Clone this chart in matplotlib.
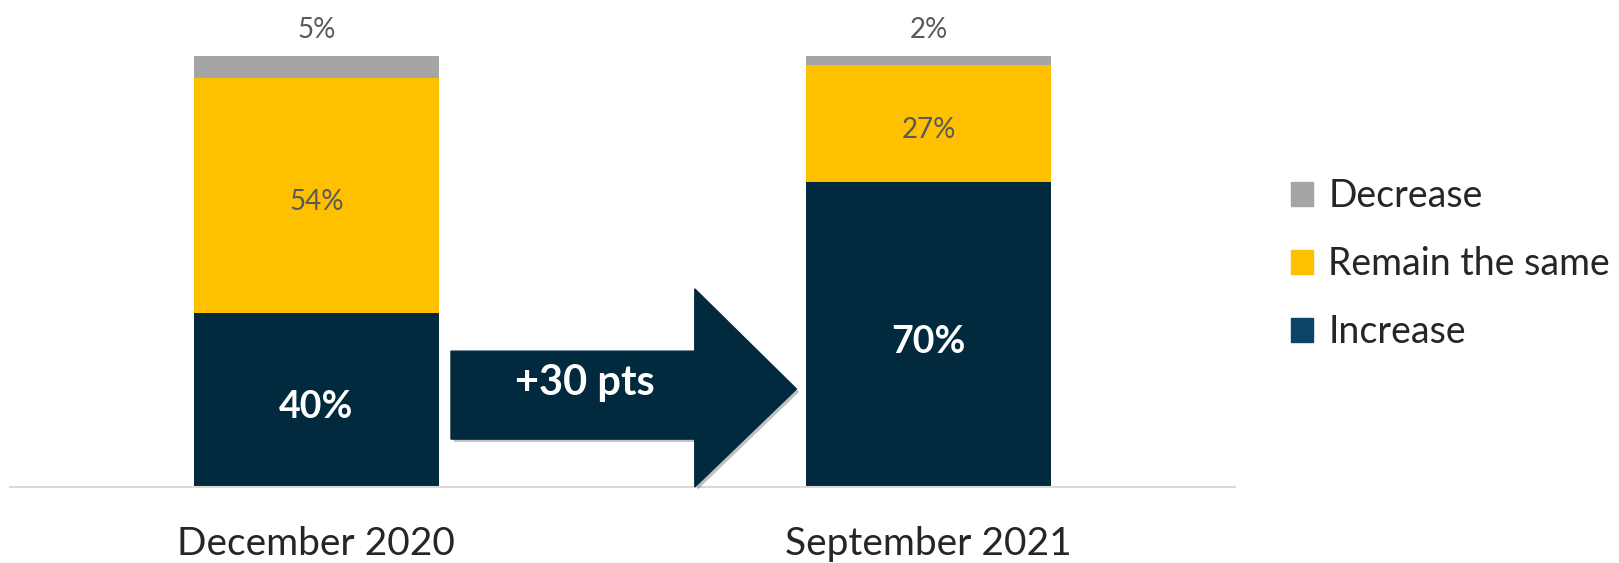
import matplotlib.pyplot as plt
import matplotlib.patheffects as pe
from matplotlib.patches import Patch, Polygon

plt.rcParams["font.family"] = ["Lato", "DejaVu Sans"]

periods = ["December 2020", "September 2021"]
series = ["Increase", "Remain the same", "Decrease"]
increase = [40, 70]
remain = [54, 27]
decrease = [5, 2]
change_label = "+30 pts"

bar_colors = ["#022A3F", "#FFC000", "#A5A5A5"]
legend_colors = ["#0B4467", "#FFC000", "#A5A5A5"]
gray_text = "#595959"
dark_text = "#262626"

fig = plt.figure(figsize=(16.19, 5.63), dpi=100)
ax = fig.add_axes([10 / 1619, 76 / 563, 1225 / 1619, 435.4 / 563])

x = list(range(len(periods)))
width = 0.40
bottoms = [0, 0]
for vals, color in zip([increase, remain, decrease], bar_colors):
    ax.bar(x, vals, width, bottom=bottoms, color=color, zorder=2)
    bottoms = [b + v for b, v in zip(bottoms, vals)]

dy = -1.6  # nudge labels to sit like the original
for i in x:
    ax.text(i, increase[i] / 2 + dy, f"{increase[i]}%", ha="center",
            va="center", color="white", fontsize=27, fontweight="bold",
            zorder=5)
    ax.text(i, increase[i] + remain[i] / 2 + dy, f"{remain[i]}%", ha="center",
            va="center", color=gray_text, fontsize=20, zorder=5)
    ax.text(i, bottoms[i] + 6.0, f"{decrease[i]}%", ha="center", va="center",
            color=gray_text, fontsize=20, clip_on=False)

# block arrow between the bars
x0, x1, x2 = 0.220, 0.618, 0.784
y_lo, y_hi = 11.0, 31.2
h_lo, h_hi, tip = 0.0, 45.5, 22.5
arrow = Polygon([(x0, y_lo), (x1, y_lo), (x1, h_lo), (x2, tip), (x1, h_hi),
                 (x1, y_hi), (x0, y_hi)], closed=True, color=bar_colors[0],
                zorder=3, clip_on=False,
                path_effects=[pe.SimplePatchShadow(offset=(2, -2), alpha=0.25),
                              pe.Normal()])
ax.add_patch(arrow)
ax.text((x0 + x1) / 2 + 0.02, (y_lo + y_hi) / 2 + 2.8, change_label,
        ha="center", va="center", color="white", fontsize=30,
        fontweight="bold", zorder=4)

ax.set_xlim(-0.5, 1.5)
ax.set_ylim(0, 100)
ax.set_xticks(x)
ax.set_xticklabels(periods, fontsize=28, color=dark_text)
ax.tick_params(axis="x", length=0, pad=28)
ax.set_yticks([])
for s in ["top", "right", "left"]:
    ax.spines[s].set_visible(False)
ax.spines["bottom"].set_color("#D9D9D9")
ax.spines["bottom"].set_linewidth(1.5)

handles = [Patch(color=c, label=s) for c, s in zip(legend_colors, series)][::-1]
fig.legend(handles=handles, loc="center left",
           bbox_to_anchor=(1272 / 1619, 1 - 264 / 563), frameon=False,
           fontsize=27, handlelength=0.6, handleheight=0.6,
           handletextpad=0.4, labelspacing=0.85, labelcolor=dark_text,
           borderpad=0)

fig.savefig("out.png", dpi=100)
